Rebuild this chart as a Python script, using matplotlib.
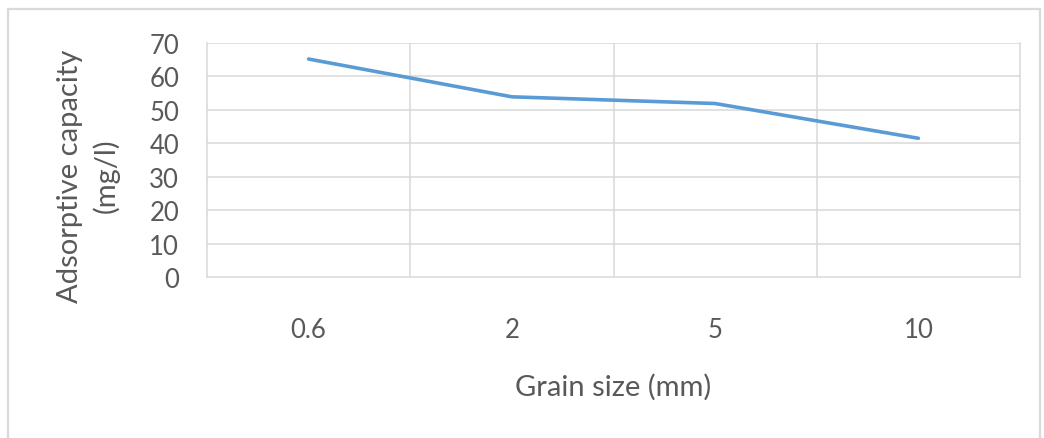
import matplotlib.pyplot as plt
from matplotlib.patches import Rectangle

# data
grain_sizes = ['0.6', '2', '5', '10']
capacity = [65.2, 53.9, 51.9, 41.5]
y_ticks = [0, 10, 20, 30, 40, 50, 60, 70]

line_colour = '#5B9BD5'
grid_colour = '#D9D9D9'
text_colour = '#595959'

plt.rcParams['font.family'] = ['Lato', 'DejaVu Sans']

fig = plt.figure(figsize=(10.44, 4.39), dpi=100)
fig.patch.set_facecolor('white')

# outer chart frame
frame = Rectangle((8 / 1044, -0.1), (1040 - 8) / 1044, 1 - 10 / 439 + 0.1,
                  transform=fig.transFigure, fill=False,
                  edgecolor=grid_colour, linewidth=1.6)
fig.patches.append(frame)

ax = fig.add_axes([207 / 1044, 1 - 278 / 439, (1020 - 207) / 1044,
                   (278 - 44) / 439])

x = list(range(len(grain_sizes)))
ax.plot(x, capacity, color=line_colour, linewidth=2.6,
        solid_capstyle='round', solid_joinstyle='round', zorder=3)

ax.set_xlim(-0.5, len(grain_sizes) - 0.5)
ax.set_ylim(0, 70)
ax.set_yticks(y_ticks)
ax.set_xticks(x)
ax.set_xticklabels(grain_sizes)

# category boundaries as vertical grid lines
for b in [0.5, 1.5, 2.5]:
    ax.axvline(b, color=grid_colour, linewidth=1.1, zorder=1)
for t in y_ticks[1:]:
    ax.axhline(t, color=grid_colour, linewidth=1.1, zorder=1)

for side in ['left', 'right', 'top', 'bottom']:
    ax.spines[side].set_color(grid_colour)
    ax.spines[side].set_linewidth(1.1)
ax.spines['top'].set_visible(False)

ax.tick_params(axis='both', length=0, colors=text_colour, labelsize=18.5)
ax.tick_params(axis='x', pad=29)
ax.tick_params(axis='y', pad=20)

fig.text(613 / 1044, 1 - 387 / 439, 'Grain size (mm)', ha='center',
         va='center', fontsize=21, color=text_colour)
fig.text(88 / 1044, 1 - 176 / 439, 'Adsorptive capacity\n(mg/l)',
         ha='center', va='center', rotation=90, fontsize=21,
         color=text_colour, linespacing=1.4, multialignment='center')

fig.savefig('out.png', dpi=100, facecolor='white')
